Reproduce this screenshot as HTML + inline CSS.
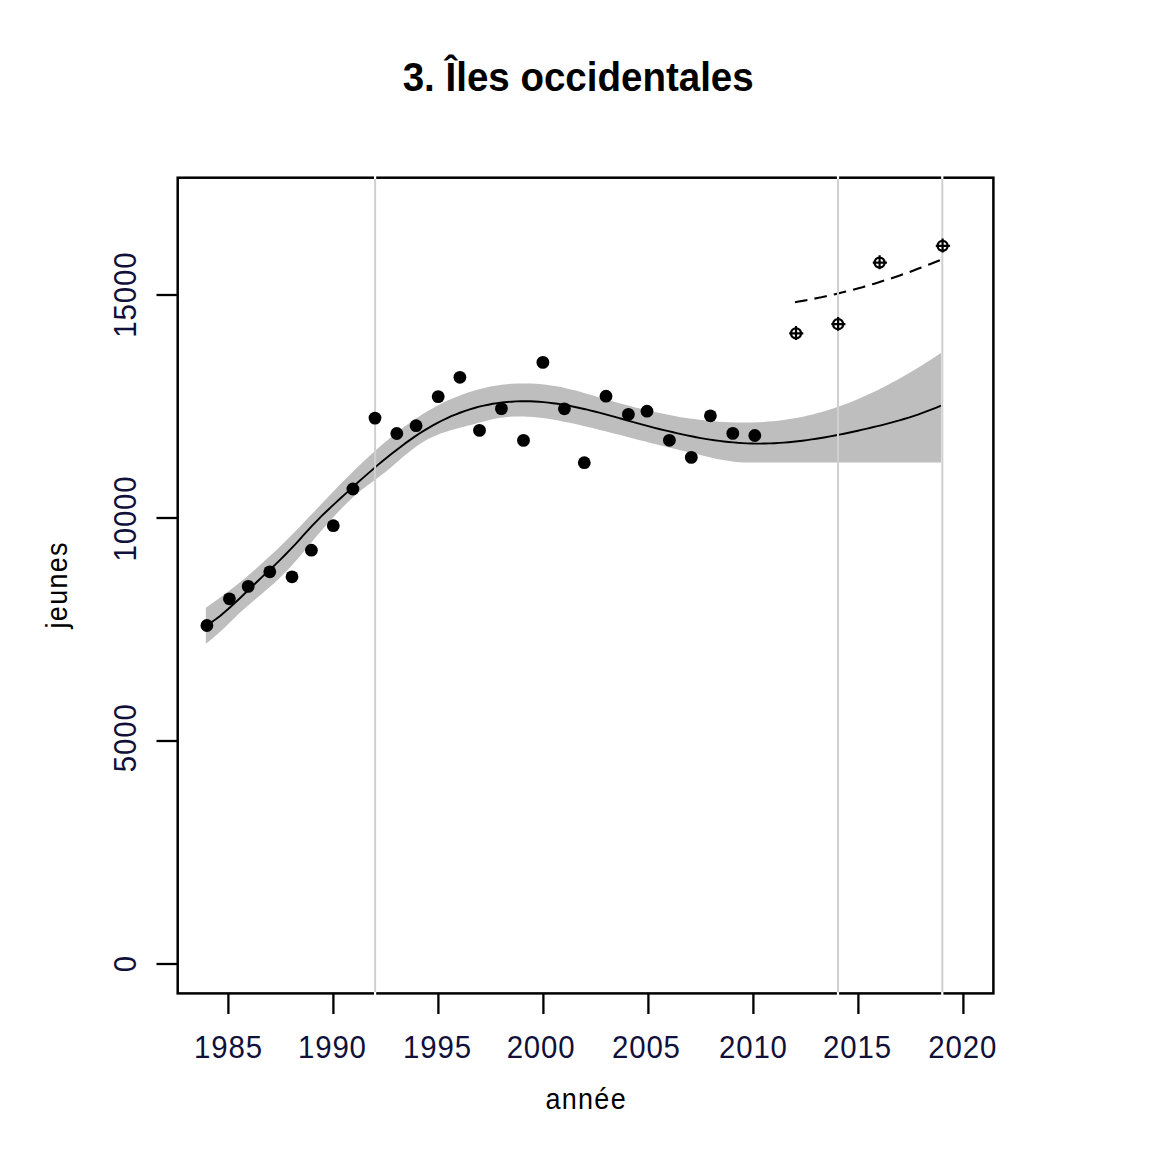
<!DOCTYPE html>
<html><head><meta charset="utf-8"><style>
html,body{margin:0;padding:0;background:#fff;width:1170px;height:1170px;overflow:hidden}
svg{display:block}
text{font-family:"Liberation Sans",sans-serif}
</style></head><body>
<svg width="1170" height="1170" viewBox="0 0 1170 1170">
<rect width="1170" height="1170" fill="#fff"/>
<text x="578.2" y="90.8" text-anchor="middle" font-family="Liberation Sans" font-weight="bold" font-size="41" textLength="351" lengthAdjust="spacingAndGlyphs" fill="#000">3. Îles occidentales</text>
<polygon points="205.8,607.7 210.7,604.3 215.7,600.8 220.6,597.3 225.5,593.6 230.5,589.8 235.4,585.9 240.3,582.0 245.3,577.9 250.2,573.7 255.1,569.4 260.1,565.1 265.0,560.6 269.9,556.1 274.9,551.4 279.8,546.7 284.7,541.9 289.7,536.9 294.6,531.9 299.6,526.9 304.5,521.7 309.4,516.6 314.4,511.4 319.3,506.2 324.2,501.0 329.2,495.8 334.1,490.7 339.0,485.6 344.0,480.6 348.9,475.7 353.8,470.8 358.8,466.0 363.7,461.3 368.6,456.7 373.6,452.2 378.5,447.8 383.4,443.5 388.4,439.4 393.3,435.3 398.2,431.4 403.2,427.6 408.1,424.0 413.0,420.5 418.0,417.2 422.9,414.0 427.8,411.0 432.8,408.2 437.7,405.5 442.6,403.0 447.6,400.6 452.5,398.4 457.4,396.4 462.4,394.5 467.3,392.7 472.2,391.2 477.2,389.7 482.1,388.4 487.1,387.3 492.0,386.3 496.9,385.5 501.9,384.8 506.8,384.2 511.7,383.8 516.7,383.5 521.6,383.4 526.5,383.4 531.5,383.5 536.4,383.8 541.3,384.2 546.3,384.7 551.2,385.4 556.1,386.2 561.1,387.1 566.0,388.2 570.9,389.4 575.9,390.6 580.8,392.0 585.7,393.4 590.7,394.8 595.6,396.3 600.5,397.8 605.5,399.2 610.4,400.7 615.3,402.1 620.3,403.4 625.2,404.8 630.1,406.1 635.1,407.4 640.0,408.6 644.9,409.8 649.9,410.9 654.8,412.0 659.7,413.1 664.7,414.1 669.6,415.1 674.6,416.0 679.5,416.9 684.4,417.7 689.4,418.4 694.3,419.1 699.2,419.8 704.2,420.3 709.1,420.9 714.0,421.3 719.0,421.7 723.9,422.0 728.8,422.3 733.8,422.5 738.7,422.6 743.6,422.6 748.6,422.6 753.5,422.5 758.4,422.3 763.4,422.0 768.3,421.6 773.2,421.2 778.2,420.7 783.1,420.0 788.0,419.3 793.0,418.5 797.9,417.7 802.8,416.7 807.8,415.6 812.7,414.4 817.6,413.1 822.6,411.8 827.5,410.3 832.4,408.7 837.4,407.0 842.3,405.3 847.2,403.4 852.2,401.5 857.1,399.4 862.1,397.3 867.0,395.1 871.9,392.8 876.9,390.4 881.8,388.0 886.7,385.5 891.7,382.8 896.6,380.2 901.5,377.4 906.5,374.6 911.4,371.7 916.3,368.7 921.3,365.7 926.2,362.6 931.1,359.4 936.1,356.2 941.0,352.9 941.0,462.5 753.8,462.5 753.8,462.4 749.2,462.5 744.6,462.5 740.0,462.3 735.4,461.9 730.8,461.3 726.2,460.6 721.6,459.8 717.0,458.9 712.4,457.9 707.7,456.8 703.1,455.7 698.5,454.6 693.9,453.5 689.3,452.4 684.7,451.3 680.1,450.2 675.5,449.1 670.9,447.9 666.3,446.8 661.7,445.7 657.1,444.5 652.5,443.4 647.9,442.2 643.3,441.0 638.7,439.9 634.1,438.7 629.5,437.5 624.9,436.3 620.3,435.1 615.6,434.0 611.0,432.8 606.4,431.6 601.8,430.4 597.2,429.3 592.6,428.1 588.0,427.0 583.4,425.9 578.8,424.8 574.2,423.8 569.6,422.8 565.0,421.9 560.4,421.0 555.8,420.1 551.2,419.3 546.6,418.6 542.0,417.9 537.4,417.4 532.8,417.0 528.2,416.7 523.5,416.5 518.9,416.4 514.3,416.5 509.7,416.8 505.1,417.2 500.5,417.8 495.9,418.6 491.3,419.6 486.7,420.7 482.1,421.9 477.5,423.1 472.9,424.4 468.3,425.6 463.7,426.8 459.1,428.0 454.5,429.2 449.9,430.6 445.3,432.0 440.7,433.6 436.1,435.4 431.4,437.5 426.8,439.8 422.2,442.5 417.6,445.5 413.0,448.9 408.4,452.5 403.8,456.3 399.2,460.3 394.6,464.3 390.0,468.2 385.4,472.0 380.8,475.6 376.2,479.0 371.6,482.4 367.0,485.8 362.4,489.3 357.8,493.1 353.2,497.1 348.6,501.4 344.0,506.0 339.3,510.8 334.7,515.7 330.1,520.7 325.5,525.9 320.9,531.2 316.3,536.6 311.7,542.1 307.1,547.7 302.5,553.2 297.9,558.6 293.3,563.8 288.7,568.9 284.1,573.6 279.5,578.2 274.9,582.4 270.3,586.5 265.7,590.5 261.1,594.5 256.5,598.3 251.9,602.3 247.2,606.2 242.6,610.3 238.0,614.6 233.4,619.0 228.8,623.4 224.2,627.9 219.6,632.2 215.0,636.3 210.4,640.2 205.8,643.8" fill="#bebebe"/>
<polyline points="206.5,625.4 211.1,622.5 215.7,619.3 220.4,615.7 225.0,611.8 229.6,607.7 234.2,603.5 238.8,599.2 243.5,594.8 248.1,590.3 252.7,585.9 257.3,581.5 261.9,577.1 266.6,572.8 271.2,568.5 275.8,564.1 280.4,559.6 285.0,555.0 289.7,550.2 294.3,545.3 298.9,540.3 303.5,535.2 308.1,530.2 312.7,525.2 317.4,520.4 322.0,515.7 326.6,511.2 331.2,506.9 335.8,502.6 340.5,498.3 345.1,494.1 349.7,489.9 354.3,485.7 358.9,481.5 363.6,477.4 368.2,473.4 372.8,469.4 377.4,465.4 382.0,461.5 386.7,457.7 391.3,454.0 395.9,450.4 400.5,446.9 405.1,443.4 409.8,440.1 414.4,436.9 419.0,433.8 423.6,430.9 428.2,428.1 432.9,425.4 437.5,422.9 442.1,420.5 446.7,418.3 451.3,416.2 456.0,414.3 460.6,412.5 465.2,410.9 469.8,409.3 474.4,408.0 479.1,406.7 483.7,405.6 488.3,404.7 492.9,403.8 497.5,403.1 502.1,402.5 506.8,402.0 511.4,401.7 516.0,401.4 520.6,401.3 525.2,401.2 529.9,401.3 534.5,401.5 539.1,401.8 543.7,402.1 548.3,402.6 553.0,403.2 557.6,403.8 562.2,404.5 566.8,405.3 571.4,406.2 576.1,407.2 580.7,408.2 585.3,409.2 589.9,410.4 594.5,411.5 599.2,412.7 603.8,413.9 608.4,415.2 613.0,416.4 617.6,417.7 622.3,419.0 626.9,420.3 631.5,421.6 636.1,422.9 640.7,424.1 645.4,425.4 650.0,426.6 654.6,427.8 659.2,429.0 663.8,430.1 668.4,431.2 673.1,432.3 677.7,433.4 682.3,434.4 686.9,435.4 691.5,436.3 696.2,437.2 700.8,438.1 705.4,438.9 710.0,439.6 714.6,440.3 719.3,440.9 723.9,441.5 728.5,442.0 733.1,442.4 737.7,442.8 742.4,443.1 747.0,443.4 751.6,443.5 756.2,443.6 760.8,443.6 765.5,443.5 770.1,443.4 774.7,443.2 779.3,442.9 783.9,442.6 788.6,442.2 793.2,441.8 797.8,441.3 802.4,440.7 807.0,440.1 811.7,439.4 816.3,438.7 820.9,438.0 825.5,437.2 830.1,436.4 834.8,435.5 839.4,434.6 844.0,433.7 848.6,432.7 853.2,431.7 857.8,430.7 862.5,429.6 867.1,428.6 871.7,427.5 876.3,426.4 880.9,425.3 885.6,424.1 890.2,422.9 894.8,421.6 899.4,420.3 904.0,419.0 908.7,417.6 913.3,416.1 917.9,414.6 922.5,412.9 927.1,411.2 931.8,409.4 936.4,407.6 941.0,405.6" fill="none" stroke="#000" stroke-width="1.9" stroke-linejoin="round"/>
<rect x="177.7" y="177.7" width="815.7" height="815.7" fill="none" stroke="#000" stroke-width="2.5"/>
<polyline points="795.0,302.2 798.7,301.5 802.5,300.9 806.2,300.2 810.0,299.5 813.7,298.8 817.5,298.0 821.2,297.3 824.9,296.5 828.7,295.6 832.4,294.8 836.2,293.9 839.9,293.0 843.7,292.1 847.4,291.2 851.2,290.2 854.9,289.2 858.6,288.2 862.4,287.2 866.1,286.1 869.9,285.0 873.6,283.9 877.4,282.8 881.1,281.6 884.8,280.4 888.6,279.2 892.3,278.0 896.1,276.7 899.8,275.4 903.6,274.1 907.3,272.8 911.1,271.4 914.8,270.0 918.5,268.6 922.3,267.2 926.0,265.7 929.8,264.2 933.5,262.7 937.3,261.2 941.0,259.7" fill="none" stroke="#000" stroke-width="2.1" stroke-dasharray="12.6 7.2"/>
<path d="M375.1 176V179.5M375.1 991.5V995" stroke="#fff" stroke-width="2.2"/>
<line x1="375.1" y1="179" x2="375.1" y2="992" stroke="#d0d0d0" stroke-width="2"/>
<path d="M838.0 176V179.5M838.0 991.5V995" stroke="#fff" stroke-width="2.2"/>
<line x1="838.0" y1="179" x2="838.0" y2="992" stroke="#d0d0d0" stroke-width="2"/>
<path d="M942.3 176V179.5M942.3 991.5V995" stroke="#fff" stroke-width="2.2"/>
<line x1="942.3" y1="179" x2="942.3" y2="992" stroke="#d0d0d0" stroke-width="2"/>
<circle cx="206.9" cy="625.5" r="6.4" fill="#000"/>
<circle cx="229.4" cy="598.8" r="6.4" fill="#000"/>
<circle cx="248.2" cy="586.4" r="6.4" fill="#000"/>
<circle cx="269.8" cy="571.8" r="6.4" fill="#000"/>
<circle cx="292.0" cy="576.8" r="6.4" fill="#000"/>
<circle cx="311.4" cy="550.2" r="6.4" fill="#000"/>
<circle cx="333.3" cy="525.7" r="6.4" fill="#000"/>
<circle cx="352.9" cy="489" r="6.4" fill="#000"/>
<circle cx="375.0" cy="418.1" r="6.4" fill="#000"/>
<circle cx="396.8" cy="433.5" r="6.4" fill="#000"/>
<circle cx="416.1" cy="425.7" r="6.4" fill="#000"/>
<circle cx="438.2" cy="396.6" r="6.4" fill="#000"/>
<circle cx="459.9" cy="377.3" r="6.4" fill="#000"/>
<circle cx="479.5" cy="430.4" r="6.4" fill="#000"/>
<circle cx="501.4" cy="408.6" r="6.4" fill="#000"/>
<circle cx="523.5" cy="440.4" r="6.4" fill="#000"/>
<circle cx="542.9" cy="362.4" r="6.4" fill="#000"/>
<circle cx="564.4" cy="408.8" r="6.4" fill="#000"/>
<circle cx="584.3" cy="462.7" r="6.4" fill="#000"/>
<circle cx="606.0" cy="396.2" r="6.4" fill="#000"/>
<circle cx="628.4" cy="414.4" r="6.4" fill="#000"/>
<circle cx="647.0" cy="411.2" r="6.4" fill="#000"/>
<circle cx="669.4" cy="440.3" r="6.4" fill="#000"/>
<circle cx="691.3" cy="457.4" r="6.4" fill="#000"/>
<circle cx="710.4" cy="415.8" r="6.4" fill="#000"/>
<circle cx="732.8" cy="433.4" r="6.4" fill="#000"/>
<circle cx="754.8" cy="435.5" r="6.4" fill="#000"/>
<circle cx="796.0" cy="333.3" r="5.0" fill="none" stroke="#000" stroke-width="2.3"/>
<path d="M789.2 333.3H803.3M796.0 326.0V339.9" stroke="#000" stroke-width="2.2"/>
<circle cx="838.1" cy="324.2" r="5.0" fill="none" stroke="#000" stroke-width="2.3"/>
<path d="M831.3 324.2H845.4M838.1 316.9V330.8" stroke="#000" stroke-width="2.2"/>
<circle cx="879.6" cy="262.6" r="5.0" fill="none" stroke="#000" stroke-width="2.3"/>
<path d="M872.8 262.6H886.9M879.6 255.3V269.2" stroke="#000" stroke-width="2.2"/>
<circle cx="942.6" cy="245.8" r="5.0" fill="none" stroke="#000" stroke-width="2.3"/>
<path d="M935.8 245.8H949.9M942.6 238.5V252.4" stroke="#000" stroke-width="2.2"/>
<line x1="228.4" y1="993" x2="228.4" y2="1014" stroke="#000" stroke-width="2.3"/>
<text transform="translate(228.5,1057.6) scale(0.95,1)" text-anchor="middle" font-family="Liberation Sans" font-size="31" letter-spacing="0.9" fill="#10103a">1985</text>
<line x1="333.4" y1="993" x2="333.4" y2="1014" stroke="#000" stroke-width="2.3"/>
<text transform="translate(332.4,1057.6) scale(0.95,1)" text-anchor="middle" font-family="Liberation Sans" font-size="31" letter-spacing="0.9" fill="#10103a">1990</text>
<line x1="438.4" y1="993" x2="438.4" y2="1014" stroke="#000" stroke-width="2.3"/>
<text transform="translate(437.5,1057.6) scale(0.95,1)" text-anchor="middle" font-family="Liberation Sans" font-size="31" letter-spacing="0.9" fill="#10103a">1995</text>
<line x1="543.4" y1="993" x2="543.4" y2="1014" stroke="#000" stroke-width="2.3"/>
<text transform="translate(541.1,1057.6) scale(0.95,1)" text-anchor="middle" font-family="Liberation Sans" font-size="31" letter-spacing="0.9" fill="#10103a">2000</text>
<line x1="648.4" y1="993" x2="648.4" y2="1014" stroke="#000" stroke-width="2.3"/>
<text transform="translate(646.4,1057.6) scale(0.95,1)" text-anchor="middle" font-family="Liberation Sans" font-size="31" letter-spacing="0.9" fill="#10103a">2005</text>
<line x1="753.4" y1="993" x2="753.4" y2="1014" stroke="#000" stroke-width="2.3"/>
<text transform="translate(753.4,1057.6) scale(0.95,1)" text-anchor="middle" font-family="Liberation Sans" font-size="31" letter-spacing="0.9" fill="#10103a">2010</text>
<line x1="858.4" y1="993" x2="858.4" y2="1014" stroke="#000" stroke-width="2.3"/>
<text transform="translate(857.5,1057.6) scale(0.95,1)" text-anchor="middle" font-family="Liberation Sans" font-size="31" letter-spacing="0.9" fill="#10103a">2015</text>
<line x1="963.4" y1="993" x2="963.4" y2="1014" stroke="#000" stroke-width="2.3"/>
<text transform="translate(962.8,1057.6) scale(0.95,1)" text-anchor="middle" font-family="Liberation Sans" font-size="31" letter-spacing="0.9" fill="#10103a">2020</text>
<line x1="156.5" y1="964.0" x2="178" y2="964.0" stroke="#000" stroke-width="2.3"/>
<text transform="translate(136,963.7) rotate(-90) scale(0.95,1)" text-anchor="middle" font-family="Liberation Sans" font-size="31" letter-spacing="0.9" fill="#10103a">0</text>
<line x1="156.5" y1="741.0" x2="178" y2="741.0" stroke="#000" stroke-width="2.3"/>
<text transform="translate(136,737.8) rotate(-90) scale(0.95,1)" text-anchor="middle" font-family="Liberation Sans" font-size="31" letter-spacing="0.9" fill="#10103a">5000</text>
<line x1="156.5" y1="518.0" x2="178" y2="518.0" stroke="#000" stroke-width="2.3"/>
<text transform="translate(136,518.5) rotate(-90) scale(0.95,1)" text-anchor="middle" font-family="Liberation Sans" font-size="31" letter-spacing="0.9" fill="#10103a">10000</text>
<line x1="156.5" y1="295.0" x2="178" y2="295.0" stroke="#000" stroke-width="2.3"/>
<text transform="translate(136,294.6) rotate(-90) scale(0.95,1)" text-anchor="middle" font-family="Liberation Sans" font-size="31" letter-spacing="0.9" fill="#10103a">15000</text>
<text transform="translate(586.2,1109) scale(0.93,1)" letter-spacing="1.4" text-anchor="middle" font-family="Liberation Sans" font-size="29" fill="#000">année</text>
<text transform="translate(66.6,584.8) rotate(-90) scale(0.93,1)" letter-spacing="1.4" text-anchor="middle" font-family="Liberation Sans" font-size="29" fill="#000">jeunes</text>
</svg>
</body></html>
